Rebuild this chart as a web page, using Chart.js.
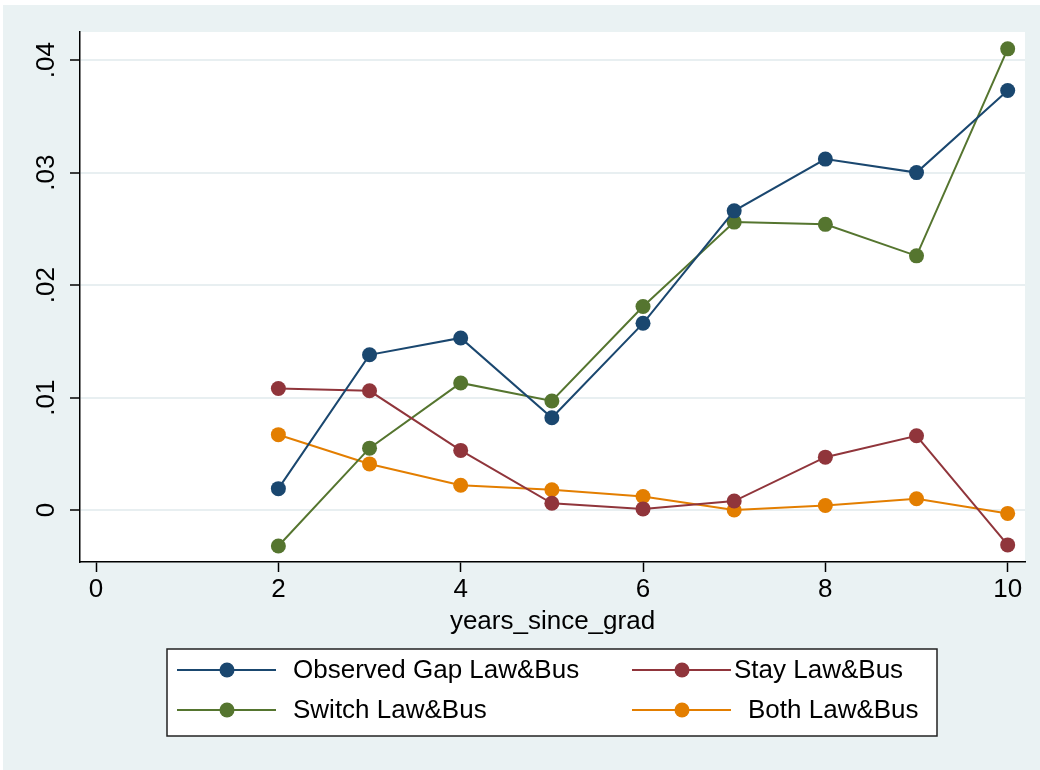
<!DOCTYPE html>
<html>
<head>
<meta charset="utf-8">
<script src="https://cdn.jsdelivr.net/npm/chart.js@4.4.1/dist/chart.umd.min.js"></script>
<style>
  html, body { margin: 0; padding: 0; background: #ffffff; }
  canvas { display: block; }
</style>
</head>
<body>
<canvas id="c" width="1040" height="770"></canvas>
<script>
// Years since graduation
const years = [2, 3, 4, 5, 6, 7, 8, 9, 10];

// Series values
const observedGap = [0.0019, 0.0138, 0.0153, 0.0082, 0.0166, 0.0266, 0.0312, 0.0300, 0.0373];
const stayLawBus  = [0.0108, 0.0106, 0.0053, 0.0006, 0.0001, 0.0008, 0.0047, 0.0066, -0.0031];
const switchLawBus = [-0.0032, 0.0055, 0.0113, 0.0097, 0.0181, 0.0256, 0.0254, 0.0226, 0.0410];
const bothLawBus  = [0.0067, 0.0041, 0.0022, 0.0018, 0.0012, 0.0000, 0.0004, 0.0010, -0.0003];

// Axis ticks and labels
const xTicks = [0, 2, 4, 6, 8, 10];
const yTicks = [0, 0.01, 0.02, 0.03, 0.04];
const yTickLabels = ['0', '.01', '.02', '.03', '.04'];

const seriesNames = ['Observed Gap Law&Bus', 'Stay Law&Bus', 'Switch Law&Bus', 'Both Law&Bus'];
const seriesColors = ['#1a476f', '#90353b', '#55752f', '#e37e00'];

const FONT = '"Liberation Sans", Arial, Helvetica, sans-serif';
const BG = '#eaf2f3';

function pts(vals) { return years.map((x, i) => ({ x: x, y: vals[i] })); }

function ds(label, vals, color) {
  return {
    label: label,
    data: pts(vals),
    borderColor: color,
    backgroundColor: color,
    borderWidth: 2,
    pointRadius: 7.5,
    pointHoverRadius: 7.5,
    pointBorderWidth: 0,
    pointBackgroundColor: color,
    tension: 0
  };
}

// Panel backgrounds
const backdrop = {
  id: 'backdrop',
  beforeDraw(chart) {
    const ctx = chart.ctx;
    const a = chart.chartArea;
    ctx.save();
    ctx.fillStyle = '#ffffff';
    ctx.fillRect(0, 0, chart.width, chart.height);
    ctx.fillStyle = BG;
    ctx.fillRect(3, 5, chart.width - 3, chart.height - 5);
    ctx.fillStyle = '#ffffff';
    ctx.fillRect(a.left, a.top, a.right - a.left, a.bottom - a.top);
    ctx.restore();
  }
};

// Rotated y tick labels and the boxed legend
const extras = {
  id: 'extras',
  afterDraw(chart) {
    const ctx = chart.ctx;
    const yScale = chart.scales.y;
    ctx.save();
    ctx.fillStyle = '#000';
    ctx.font = '26px ' + FONT;
    ctx.textAlign = 'center';
    ctx.textBaseline = 'alphabetic';
    yTicks.forEach((v, i) => {
      const py = yScale.getPixelForValue(v);
      ctx.save();
      ctx.translate(54, py);
      ctx.rotate(-Math.PI / 2);
      ctx.fillText(yTickLabels[i], 0, 0);
      ctx.restore();
    });

    // legend box
    const bx = 167, by = 649, bw = 770, bh = 87;
    ctx.fillStyle = '#ffffff';
    ctx.fillRect(bx, by, bw, bh);
    ctx.strokeStyle = '#222';
    ctx.lineWidth = 1.5;
    ctx.strokeRect(bx, by, bw, bh);

    const items = [
      { i: 0, x0: 177, x1: 276, mx: 227, tx: 293, y: 670 },
      { i: 1, x0: 632, x1: 731, mx: 682, tx: 734, y: 670 },
      { i: 2, x0: 177, x1: 276, mx: 227, tx: 293, y: 710 },
      { i: 3, x0: 632, x1: 731, mx: 682, tx: 748, y: 710 }
    ];
    ctx.font = '26px ' + FONT;
    ctx.textAlign = 'left';
    ctx.textBaseline = 'middle';
    items.forEach(it => {
      const c = seriesColors[it.i];
      ctx.strokeStyle = c;
      ctx.lineWidth = 2;
      ctx.beginPath();
      ctx.moveTo(it.x0, it.y);
      ctx.lineTo(it.x1, it.y);
      ctx.stroke();
      ctx.fillStyle = c;
      ctx.beginPath();
      ctx.arc(it.mx, it.y, 7.5, 0, Math.PI * 2);
      ctx.fill();
      ctx.fillStyle = '#000';
      ctx.fillText(seriesNames[it.i], it.tx, it.y + 1);
    });
    ctx.restore();
  }
};

new Chart(document.getElementById('c'), {
  type: 'line',
  data: {
    datasets: [
      ds(seriesNames[0], observedGap, seriesColors[0]),
      ds(seriesNames[1], stayLawBus, seriesColors[1]),
      ds(seriesNames[2], switchLawBus, seriesColors[2]),
      ds(seriesNames[3], bothLawBus, seriesColors[3])
    ]
  },
  options: {
    responsive: false,
    animation: false,
    devicePixelRatio: 1,
    layout: { padding: { left: 3, top: 32, right: 15, bottom: 133 } },
    plugins: {
      legend: { display: false },
      tooltip: { enabled: false }
    },
    scales: {
      x: {
        type: 'linear',
        position: 'bottom',
        min: -0.176,
        max: 10.19,
        afterBuildTicks(scale) { scale.ticks = xTicks.map(v => ({ value: v })); },
        afterFit(scale) { scale.height = 75; },
        ticks: {
          color: '#000',
          font: { family: FONT, size: 26 },
          padding: 2,
          maxRotation: 0,
          autoSkip: false,
          callback: v => String(v)
        },
        grid: {
          drawOnChartArea: false,
          drawTicks: true,
          tickLength: 10,
          tickColor: '#000',
          tickWidth: 1.5
        },
        border: { display: true, color: '#000', width: 1.5 },
        title: {
          display: true,
          text: 'years_since_grad',
          color: '#000',
          font: { family: FONT, size: 26 },
          padding: { top: 0, bottom: 0 }
        }
      },
      y: {
        type: 'linear',
        min: -0.00462,
        max: 0.0425,
        afterBuildTicks(scale) { scale.ticks = yTicks.map(v => ({ value: v })); },
        afterFit(scale) { scale.width = 77; },
        ticks: { display: false },
        grid: {
          drawOnChartArea: true,
          drawTicks: true,
          tickLength: 10,
          color: '#e8eff1',
          lineWidth: 2,
          tickColor: '#000',
          tickWidth: 1.5
        },
        border: { display: true, color: '#000', width: 1.5 }
      }
    }
  },
  plugins: [backdrop, extras]
});
</script>
</body>
</html>
